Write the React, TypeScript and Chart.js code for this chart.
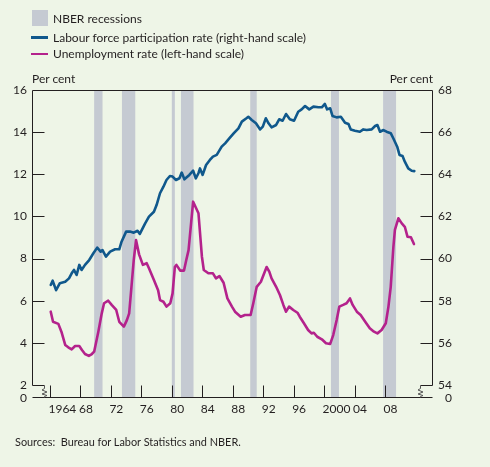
import React, { useEffect, useRef } from "react";
import { Chart, registerables } from "chart.js";

Chart.register(...registerables);

// ---------- data ----------
const unemploymentDates = [
  1964.1, 1964.4, 1965.1, 1965.5, 1966.0, 1966.4, 1966.85, 1967.3, 1967.85, 1968.2,
  1968.6, 1969.1, 1969.5, 1969.8, 1970.35, 1970.8, 1971.1, 1971.65, 1972.1, 1972.7,
  1973.1, 1973.7, 1974.1, 1974.4, 1974.7, 1975.0, 1975.3, 1975.7, 1976.2, 1976.7,
  1977.0, 1977.65, 1978.2, 1978.45, 1978.9, 1979.3, 1979.8, 1980.1, 1980.4, 1980.6,
  1981.1, 1981.6, 1981.9, 1982.2, 1982.8, 1983.5, 1983.95, 1984.2, 1984.8, 1985.4,
  1985.8, 1986.25, 1986.8, 1987.3, 1987.9, 1988.3, 1989.05, 1989.6, 1990.35, 1990.7,
  1991.15, 1991.7, 1992.45, 1992.8, 1993.1, 1993.7, 1994.2, 1994.65, 1995.0, 1995.4,
  1995.95, 1996.5, 1996.8, 1997.35, 1997.9, 1998.35, 1998.65, 1999.1, 1999.7, 2000.25,
  2000.8, 2001.2, 2001.65, 2002.0, 2002.5, 2002.95, 2003.4, 2003.75, 2004.3, 2004.8,
  2005.4, 2006.0, 2006.55, 2007.0, 2007.55, 2008.1, 2008.45, 2008.75, 2009.1, 2009.3,
  2009.75, 2010.2, 2010.6, 2010.95, 2011.4, 2011.8,
];
const unemploymentRates = [
  5.48, 5.0, 4.9, 4.53, 3.9, 3.79, 3.69, 3.85, 3.85, 3.66,
  3.47, 3.38, 3.47, 3.58, 4.53, 5.4, 5.88, 6.0, 5.8, 5.56,
  5.0, 4.77, 5.08, 5.4, 6.66, 7.93, 8.88, 8.2, 7.7, 7.78,
  7.54, 6.98, 6.5, 6.03, 5.95, 5.72, 5.88, 6.35, 7.6, 7.7,
  7.43, 7.43, 7.93, 8.4, 10.7, 10.15, 8.1, 7.46, 7.3, 7.3,
  7.06, 7.17, 6.85, 6.11, 5.72, 5.48, 5.24, 5.32, 5.32, 5.88,
  6.66, 6.9, 7.6, 7.38, 7.06, 6.66, 6.27, 5.8, 5.48, 5.72,
  5.56, 5.43, 5.24, 4.93, 4.61, 4.45, 4.48, 4.29, 4.17, 3.98,
  3.95, 4.37, 5.08, 5.72, 5.8, 5.88, 6.11, 5.8, 5.48, 5.32,
  5.0, 4.69, 4.53, 4.45, 4.61, 4.93, 5.72, 6.66, 8.56, 9.36,
  9.91, 9.67, 9.51, 9.04, 9.01, 8.69,
];

const participationDates = [
  1964.1, 1964.35, 1964.8, 1965.3, 1966.0, 1966.5, 1966.85, 1967.15, 1967.5, 1967.85,
  1968.15, 1968.6, 1969.15, 1969.7, 1970.2, 1970.65, 1970.9, 1971.35, 1971.9, 1972.55,
  1973.1, 1973.4, 1974.0, 1974.5, 1975.0, 1975.5, 1975.8, 1976.5, 1977.0, 1977.65,
  1978.0, 1978.45, 1978.9, 1979.3, 1979.75, 1980.1, 1980.55, 1981.0, 1981.3, 1981.65,
  1982.3, 1982.8, 1983.15, 1983.5, 1983.7, 1984.05, 1984.5, 1985.0, 1985.4, 1985.9,
  1986.55, 1987.0, 1987.55, 1988.15, 1988.75, 1989.2, 1989.8, 1990.05, 1990.5, 1991.05,
  1991.6, 1991.95, 1992.35, 1992.7, 1993.1, 1993.7, 1994.1, 1994.55, 1995.0, 1995.5,
  1996.05, 1996.6, 1997.05, 1997.5, 1998.05, 1998.6, 1999.25, 1999.7, 2000.1, 2000.4,
  2000.8, 2001.1, 2001.65, 2002.2, 2002.75, 2003.2, 2003.5, 2004.05, 2004.7, 2005.15,
  2005.6, 2006.25, 2006.7, 2007.0, 2007.35, 2007.8, 2008.2, 2008.75, 2009.1, 2009.6,
  2009.9, 2010.3, 2010.6, 2011.05, 2011.5, 2011.85,
];
const participationRates = [
  58.75, 58.95, 58.5, 58.83, 58.9, 59.06, 59.3, 59.46, 59.22, 59.7,
  59.46, 59.7, 59.93, 60.25, 60.52, 60.33, 60.4, 60.09, 60.33, 60.44,
  60.44, 60.8, 61.28, 61.28, 61.23, 61.32, 61.17, 61.67, 61.99, 62.22,
  62.54, 63.1, 63.41, 63.73, 63.92, 63.89, 63.73, 63.81, 64.08, 63.76,
  63.97, 64.17, 63.81, 64.05, 64.28, 63.97, 64.44, 64.68, 64.84, 64.92,
  65.31, 65.47, 65.7, 65.95, 66.18, 66.5, 66.66, 66.73, 66.58, 66.42,
  66.13, 66.26, 66.66, 66.42, 66.23, 66.34, 66.61, 66.54, 66.86, 66.61,
  66.54, 66.97, 67.08, 67.24, 67.08, 67.21, 67.18, 67.18, 67.34, 67.08,
  67.13, 66.77, 66.7, 66.73, 66.45, 66.39, 66.13, 66.07, 66.02, 66.13,
  66.1, 66.13, 66.29, 66.34, 66.02, 66.1, 66.02, 65.95, 65.7, 65.31,
  64.92, 64.87, 64.6, 64.28, 64.17, 64.15,
];

const recessionStarts = [1969.8, 1973.45, 1980.0, 1981.2, 1990.3, 2000.9, 2007.75];
const recessionEnds = [1970.9, 1975.2, 1980.4, 1982.85, 1991.15, 2001.95, 2009.45];

const yearTicks = [1964, 1968, 1972, 1976, 1980, 1984, 1988, 1992, 1996, 2000, 2004, 2008];
const leftTicks = [2, 4, 6, 8, 10, 12, 14, 16];
const rightTicks = [54, 56, 58, 60, 62, 64, 66, 68];

// ---------- style ----------
const BG = "#EEF5E7";
const RECESSION = "#C5CAD2";
const BLUE = "#10588C";
const PINK = "#B4228C";
const INK = "#231F20";
const FONT = "Lato, 'Liberation Sans', sans-serif";

const X_MIN = 1961.77;
const X_MAX = 2014.17;
const LEFT_MAX = 16;
const LEFT_BREAK = 2;
const LEFT_MIN = LEFT_BREAK - 13 / ((385 - 90) / (LEFT_MAX - LEFT_BREAK));
const RIGHT_OFFSET = 52;

const framePlugin = {
  id: "frame",
  beforeDatasetsDraw(chart: any) {
    const { ctx, chartArea, scales } = chart;
    const x = scales.x;
    ctx.save();
    ctx.fillStyle = RECESSION;
    recessionStarts.forEach((s, i) => {
      const x0 = x.getPixelForValue(s);
      const x1 = x.getPixelForValue(recessionEnds[i]);
      ctx.fillRect(x0, chartArea.top, x1 - x0, chartArea.bottom - chartArea.top);
    });
    ctx.restore();
  },
  afterDatasetsDraw(chart: any) {
    const { ctx, chartArea, scales } = chart;
    const { x, y, y1 } = scales;
    const L = Math.round(chartArea.left) - 0.5;
    const R = Math.round(chartArea.right) + 0.5;
    const T = Math.round(chartArea.top) + 0.5;
    const B = Math.round(chartArea.bottom) - 0.5;
    const yBreak = Math.round(y.getPixelForValue(LEFT_BREAK)) + 0.5;
    const tick = 12;
    ctx.save();
    ctx.strokeStyle = INK;
    ctx.lineWidth = 1;
    ctx.beginPath();
    // top border
    ctx.moveTo(L, T);
    ctx.lineTo(R, T);
    // left axis with step
    ctx.moveTo(L, T);
    ctx.lineTo(L, yBreak);
    ctx.lineTo(L + tick, yBreak);
    // right axis with step
    ctx.moveTo(R, T);
    ctx.lineTo(R, yBreak);
    ctx.lineTo(R - tick, yBreak);
    // bottom line
    ctx.moveTo(L, B);
    ctx.lineTo(R, B);
    // left ticks
    leftTicks.forEach((v) => {
      if (v === LEFT_BREAK || v === LEFT_MAX) return;
      const py = Math.round(y.getPixelForValue(v)) + 0.5;
      ctx.moveTo(L, py);
      ctx.lineTo(L + tick, py);
    });
    rightTicks.forEach((v) => {
      if (v === LEFT_BREAK + RIGHT_OFFSET || v === LEFT_MAX + RIGHT_OFFSET) return;
      const py = Math.round(y1.getPixelForValue(v)) + 0.5;
      ctx.moveTo(R, py);
      ctx.lineTo(R - tick, py);
    });
    yearTicks.forEach((v) => {
      const px = Math.round(x.getPixelForValue(v)) + 0.5;
      ctx.moveTo(px, B);
      ctx.lineTo(px, B - tick);
    });
    ctx.stroke();

    // break zigzags
    const zig = (cx: number) => {
      ctx.beginPath();
      ctx.moveTo(cx, yBreak);
      ctx.lineTo(cx, yBreak + 3);
      ctx.lineTo(cx - 2.5, yBreak + 4.5);
      ctx.lineTo(cx + 2.5, yBreak + 6.5);
      ctx.lineTo(cx - 2.5, yBreak + 8.5);
      ctx.lineTo(cx + 2.5, yBreak + 10);
      ctx.lineTo(cx, yBreak + 11);
      ctx.lineTo(cx, B);
      ctx.stroke();
    };
    ctx.strokeStyle = "#555";
    zig(L + tick);
    zig(R - tick);
    ctx.restore();
  },
};

function makeTicks(values: number[]) {
  return (scale: any) => {
    scale.ticks = values.map((v) => ({ value: v }));
  };
}

export default function App() {
  const canvasRef = useRef<HTMLCanvasElement | null>(null);

  useEffect(() => {
    if (!canvasRef.current) return;
    Chart.defaults.font.family = FONT;
    const chart = new Chart(canvasRef.current, {
      type: "line",
      data: {
        datasets: [
          {
            label: "Labour force participation rate (right-hand scale)",
            data: participationDates.map((d, i) => ({ x: d, y: participationRates[i] })),
            borderColor: BLUE,
            yAxisID: "y1",
          },
          {
            label: "Unemployment rate (left-hand scale)",
            data: unemploymentDates.map((d, i) => ({ x: d, y: unemploymentRates[i] })),
            borderColor: PINK,
            yAxisID: "y",
          },
        ],
      },
      options: {
        responsive: false,
        animation: false,
        events: [],
        layout: { padding: { top: 90, right: 38, left: 0, bottom: 0 } },
        plugins: { legend: { display: false }, tooltip: { enabled: false } },
        elements: {
          point: { radius: 0 },
          line: { borderWidth: 2.6, tension: 0, borderJoinStyle: "round", borderCapStyle: "round" },
        },
        scales: {
          x: {
            type: "linear",
            min: X_MIN,
            max: X_MAX,
            grid: { display: false, drawTicks: false },
            border: { display: false },
            afterBuildTicks: makeTicks(yearTicks),
            afterFit: (s: any) => {
              s.height = 69;
            },
            ticks: {
              autoSkip: false,
              maxRotation: 0,
              align: "start",
              labelOffset: -1.5,
              padding: 4,
              color: INK,
              font: { size: 12 },
              callback: (v: any) =>
                v === 1964 || v === 2000 ? String(v) : String(v).slice(2),
            },
          },
          y: {
            type: "linear",
            position: "left",
            min: LEFT_MIN,
            max: LEFT_MAX,
            grid: { display: false, drawTicks: false },
            border: { display: false },
            afterBuildTicks: makeTicks([LEFT_MIN, ...leftTicks]),
            afterFit: (s: any) => {
              s.width = 33;
            },
            ticks: {
              padding: 6,
              color: INK,
              font: { size: 12 },
              callback: (v: any) => (v < LEFT_BREAK ? "0" : String(v)),
            },
          },
          y1: {
            type: "linear",
            position: "right",
            min: LEFT_MIN + RIGHT_OFFSET,
            max: LEFT_MAX + RIGHT_OFFSET,
            grid: { display: false, drawTicks: false },
            border: { display: false },
            afterBuildTicks: makeTicks([LEFT_MIN + RIGHT_OFFSET, ...rightTicks]),
            afterFit: (s: any) => {
              s.width = 20;
            },
            ticks: {
              padding: 0,
              crossAlign: "far",
              color: INK,
              font: { size: 12 },
              callback: (v: any) => (v < LEFT_BREAK + RIGHT_OFFSET ? "0" : String(v)),
            },
          },
        },
      } as any,
      plugins: [framePlugin],
    });
    return () => chart.destroy();
  }, []);

  const text = (left: number, center: number, size = 12): React.CSSProperties => ({
    position: "absolute",
    left,
    top: center - 8,
    height: 16,
    lineHeight: "16px",
    fontSize: size,
    fontFamily: FONT,
    color: INK,
    whiteSpace: "nowrap",
  });

  return (
    <div
      style={{
        position: "fixed",
        left: 0,
        top: 0,
        width: 490,
        height: 467,
        background: BG,
        overflow: "hidden",
      }}
    >
      <canvas
        ref={canvasRef}
        width={490}
        height={467}
        style={{ position: "absolute", left: 0, top: 0, width: 490, height: 467 }}
      />
      <div style={{ position: "absolute", left: 32, top: 10, width: 16, height: 16, background: RECESSION }} />
      <div style={{ position: "absolute", left: 31, top: 36, width: 17, height: 2.6, background: BLUE }} />
      <div style={{ position: "absolute", left: 31, top: 52.7, width: 17, height: 2.6, background: PINK }} />
      <div style={text(53, 18.7)}>NBER recessions</div>
      <div style={text(53, 38)}>Labour force participation rate (right-hand scale)</div>
      <div style={text(53, 54.2)}>Unemployment rate (left-hand scale)</div>
      <div style={text(32, 79.2)}>Per cent</div>
      <div style={{ ...text(0, 79.2), left: undefined, right: 57 }}>Per cent</div>
      <div style={text(15, 442, 10.9)}>Sources:&nbsp; Bureau for Labor Statistics and NBER.</div>
    </div>
  );
}
